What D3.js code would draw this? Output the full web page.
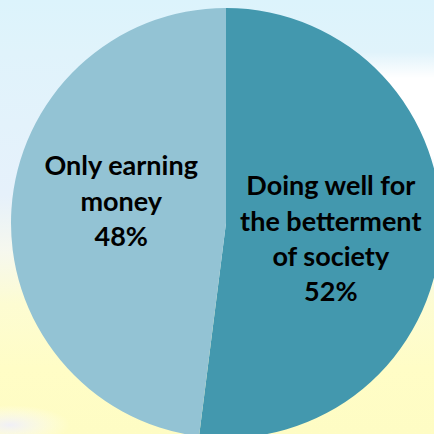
<!DOCTYPE html>
<html><head><meta charset="utf-8">
<script src="https://cdn.jsdelivr.net/npm/d3@7"></script>
<style>html,body{margin:0;padding:0;background:#fff;}svg{display:block;}</style>
</head><body>
<svg id="chart" width="434" height="434"></svg>
<script>
const categories = ["Doing well for the betterment of society", "Only earning money"];
const labelLines = [["Doing well for", "the betterment", "of society"], ["Only earning", "money"]];
const values = [52, 48];
const colors = ["#4398ae", "#93c3d4"];

const W = 434, H = 434;
const cx = 226, cy = 223, R = 215;
const svg = d3.select("#chart");
const defs = svg.append("defs");

const bg = defs.append("linearGradient").attr("id","bg").attr("x1",0).attr("y1",0).attr("x2",0).attr("y2",1);
[[0,"#dcf3fc"],[0.12,"#e0f3fb"],[0.45,"#e6f1fb"],[0.58,"#f6f8ee"],[0.7,"#fdfcd2"],[0.85,"#fffdc6"],[1,"#fefcc4"]]
  .forEach(([o,c]) => bg.append("stop").attr("offset",o).attr("stop-color",c));
svg.append("rect").attr("width",W).attr("height",H).attr("fill","url(#bg)");

// white band at upper right
const wb = defs.append("linearGradient").attr("id","wb").attr("x1",0).attr("y1",0).attr("x2",0).attr("y2",1);
[[0,"#ffffff",0],[0.2,"#ffffff",1],[0.8,"#ffffff",1],[1,"#ffffff",0]]
  .forEach(([o,c,a]) => wb.append("stop").attr("offset",o).attr("stop-color",c).attr("stop-opacity",a));
svg.append("rect").attr("x",300).attr("y",52).attr("width",134).attr("height",130).attr("fill","url(#wb)");

// soft whitish swirl at lower left
const sw = defs.append("radialGradient").attr("id","sw");
[[0,"#eeeefc",0.9],[1,"#ffffff",0]].forEach(([o,c,a]) => sw.append("stop").attr("offset",o).attr("stop-color",c).attr("stop-opacity",a));
svg.append("ellipse").attr("cx",10).attr("cy",425).attr("rx",60).attr("ry",20).attr("fill","url(#sw)");

const pie = d3.pie().sort(null).startAngle(0).endAngle(2*Math.PI)(values);
const arc = d3.arc().innerRadius(0).outerRadius(R);
const labelArc = d3.arc().innerRadius(105).outerRadius(105);

const g = svg.append("g").attr("transform", `translate(${cx},${cy})`);
g.selectAll("path").data(pie).join("path")
  .attr("d", arc).attr("fill", (d,i) => colors[i]);

const lh = 35.5;
const shift = [-34.6, -41.4];
pie.forEach((d,i) => {
  const [x,y] = labelArc.centroid(d);
  const lines = labelLines[i].concat([values[i] + "%"]);
  const t = g.append("text")
    .attr("text-anchor","middle")
    .attr("font-family","Lato, 'Open Sans', sans-serif")
    .attr("font-weight","bold")
    .attr("font-size","27px")
    .attr("fill","#000");
  lines.forEach((ln,j) => {
    t.append("tspan").attr("x", x).attr("y", y + shift[i] + j*lh).text(ln);
  });
});
</script>
</body></html>
